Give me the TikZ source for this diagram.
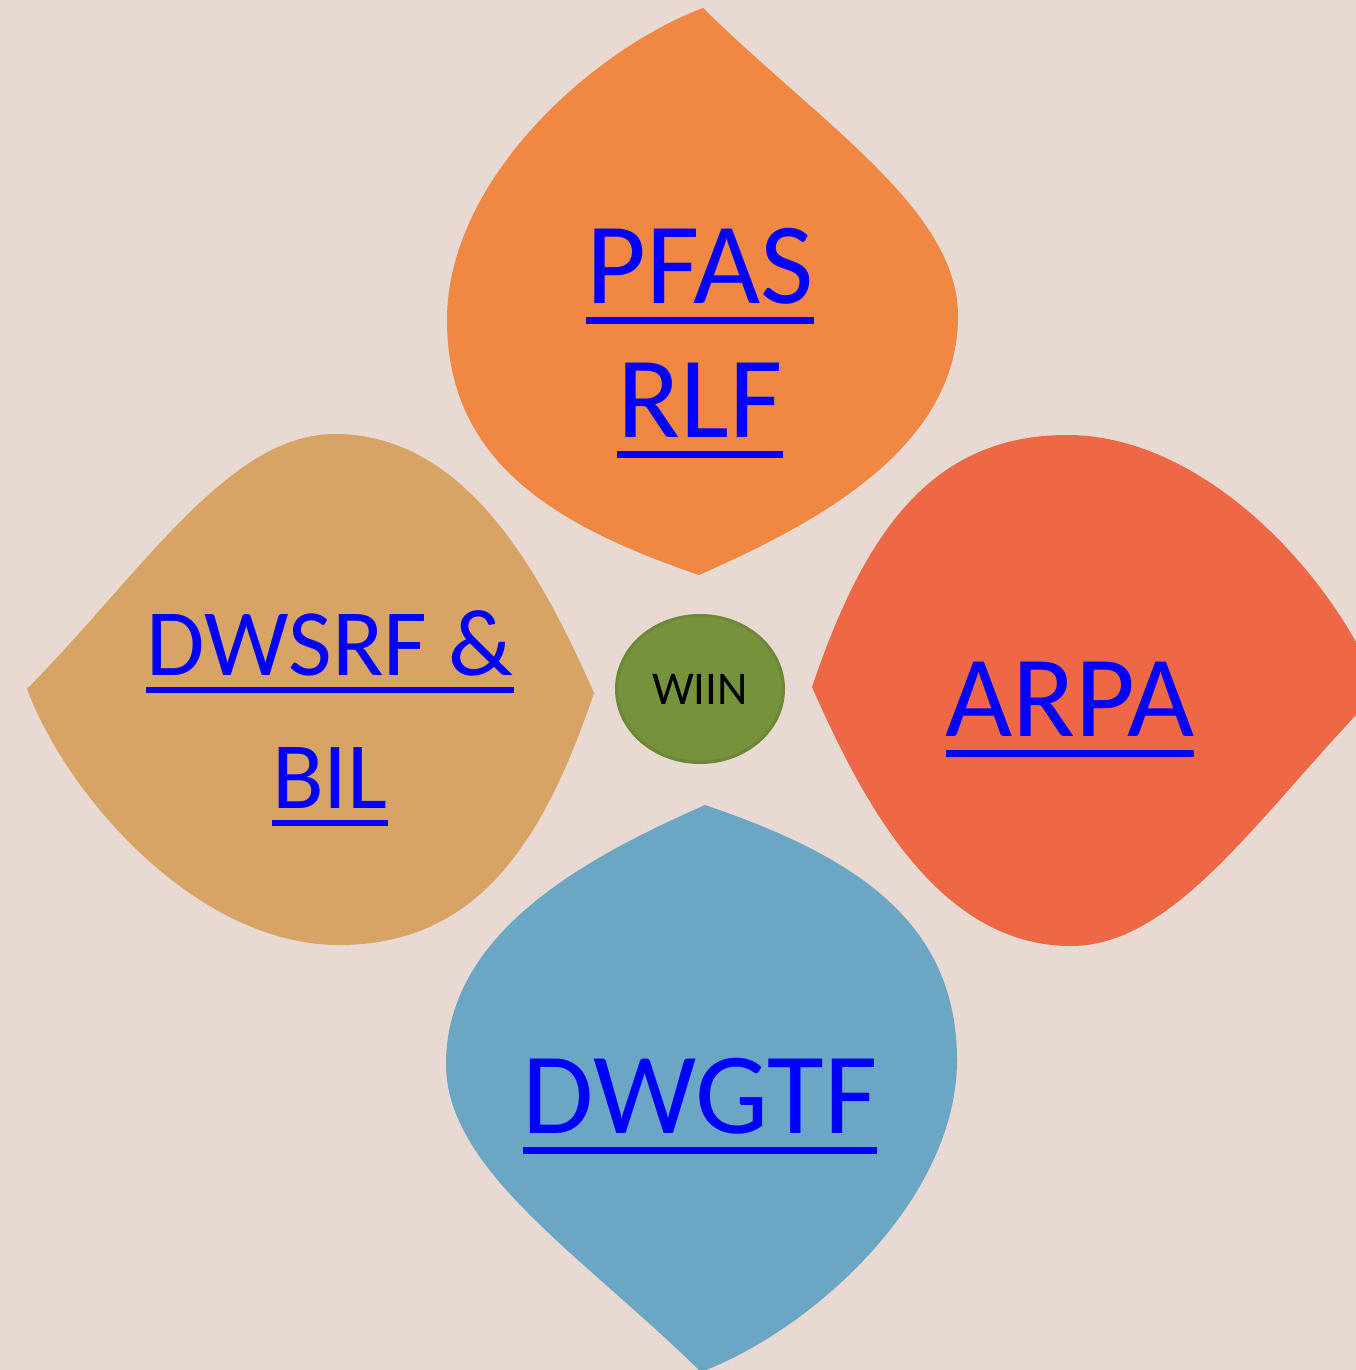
\documentclass[tikz,border=0pt]{standalone}
\usepackage{fontspec}
\setmainfont{Carlito}
\usepackage{tikz}
\usetikzlibrary{shapes.geometric}

\definecolor{bgcol}{RGB}{232,218,210}
\definecolor{petalorange}{RGB}{240,136,67}
\definecolor{petalred}{RGB}{239,104,70}
\definecolor{petalblue}{RGB}{108,166,197}
\definecolor{petaltan}{RGB}{216,164,101}
\definecolor{hubgreen}{RGB}{119,146,60}
\definecolor{hubedge}{RGB}{108,136,55}
\definecolor{linkblue}{RGB}{0,0,255}

% one petal, tip up, around the centre of the flower
\newcommand\petalpath{(1,682) .. controls (120,565) and (256,480) .. (256,374)
  .. controls (256,240) and (110,165) .. (-3,115)
  .. controls (-150,165) and (-255,230) .. (-255,370)
  .. controls (-255,510) and (-110,640) .. cycle}
% underlined link text
\newcommand\linktext[1]{\setbox0=\hbox{#1}\rlap{\rule[-0.185em]{\wd0}{0.063em}}\box0}

\begin{document}
\begin{tikzpicture}[x=1pt,y=1pt,
    linkbig/.style={text=linkblue, inner sep=0pt, anchor=base, font=\fontsize{116}{139}\selectfont},
    linksmall/.style={text=linkblue, inner sep=0pt, anchor=base, font=\fontsize{95}{114}\selectfont}]
    \useasboundingbox (0,0) rectangle (1356,-1370);
    \fill[bgcol] (0,0) rectangle (1356,-1370);
    \clip (0,0) rectangle (1356,-1370);
    % petals
    \fill[petalorange, shift={(702,-690)}, rotate=0] \petalpath;
    \fill[petalred, shift={(697,-690)}, rotate=-90] \petalpath;
    \fill[petalblue, shift={(702,-690)}, rotate=180] \petalpath;
    \fill[petaltan, shift={(709,-690)}, rotate=90] \petalpath;
    % hub
    \node[ellipse, draw=hubedge, fill=hubgreen, line width=3pt, minimum width=167pt,
          minimum height=147pt, inner sep=0pt, font=\fontsize{47}{56}\selectfont] (wiin) at (700,-689) {WIIN};
    % labels
    \node[linkbig] (pfas) at (700,-303) {\linktext{PFAS}};
    \node[linkbig] (rlf) at ([yshift=-134pt]pfas.base) {\linktext{RLF}};
    \node[linkbig] (arpa) at (1070,-736) {\linktext{ARPA}};
    \node[linksmall] (dwsrf) at (330,-675) {\linktext{DWSRF \&}};
    \node[linksmall] (bil) at ([yshift=-133pt]dwsrf.base) {\linktext{BIL}};
    \node[linkbig] (dwgtf) at (700,-1133) {\linktext{DWGTF}};
\end{tikzpicture}
\end{document}
